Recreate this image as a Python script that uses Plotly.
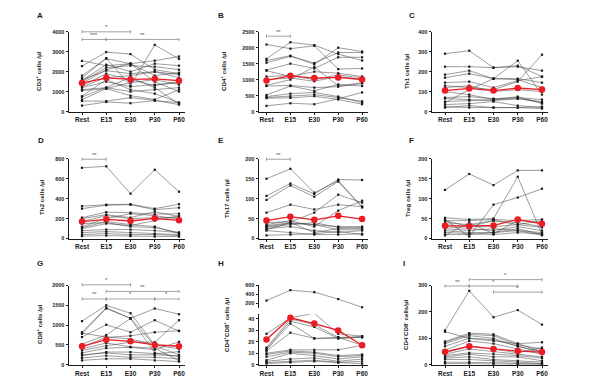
import plotly.graph_objects as go

categories = ["Rest", "E15", "E30", "P30", "P60"]

# ---------------- data ----------------
A_subjects = [
    [2540, 2300, 2400, 1500, 1000],
    [2280, 2980, 2880, 2100, 1900],
    [1800, 2650, 2400, 2550, 2760],
    [1680, 2680, 1300, 3340, 2640],
    [1560, 2350, 2000, 2400, 2300],
    [1500, 2200, 2300, 2250, 2100],
    [1420, 2100, 2400, 1800, 1950],
    [1300, 1900, 1600, 1300, 1500],
    [1250, 1700, 1800, 2000, 1700],
    [1200, 1500, 1250, 1350, 1450],
    [1100, 1200, 1000, 1100, 1200],
    [1050, 1150, 1450, 1600, 1350],
    [770, 1600, 1100, 900, 450],
    [730, 1200, 1700, 1200, 380],
    [600, 1150, 800, 600, 1100],
    [530, 520, 700, 560, 350],
    [300, 480, 420, 550, 450],
    [1600, 2050, 1900, 2000, 1850],
]
A_mean = [1430, 1690, 1610, 1640, 1550]

B_subjects = [
    [2100, 1970, 2060, 1330, 1350],
    [1650, 2170, 2080, 1800, 1600],
    [1600, 1750, 1480, 2000, 1880],
    [1530, 1730, 1520, 1850, 1850],
    [1300, 1500, 1350, 1700, 1700],
    [1280, 1100, 1250, 1200, 1100],
    [1000, 1050, 950, 1100, 1000],
    [820, 1000, 1400, 800, 900],
    [800, 820, 750, 780, 880],
    [520, 800, 650, 850, 800],
    [470, 560, 600, 470, 280],
    [440, 480, 530, 440, 320],
    [420, 430, 480, 380, 230],
    [180, 260, 230, 400, 600],
    [1100, 1130, 1000, 1150, 1050],
]
B_mean = [975, 1120, 1050, 1070, 1005]

C_subjects = [
    [290, 305, 220, 225, 205],
    [225, 225, 220, 230, 175],
    [185, 205, 165, 165, 145],
    [170, 190, 165, 160, 120],
    [45, 110, 165, 255, 85],
    [130, 120, 110, 150, 285],
    [145, 150, 120, 155, 175],
    [120, 130, 100, 110, 100],
    [70, 75, 65, 70, 60],
    [65, 60, 55, 65, 50],
    [50, 55, 60, 75, 40],
    [35, 40, 50, 30, 20],
    [25, 20, 20, 20, 15],
    [20, 30, 20, 20, 25],
    [100, 85, 60, 65, 45],
]
C_mean = [105, 116, 105, 118, 110]

D_subjects = [
    [710, 725, 450, 690, 470],
    [325, 340, 345, 300, 345],
    [300, 335, 340, 290, 310],
    [210, 265, 260, 245, 250],
    [200, 240, 210, 270, 220],
    [120, 200, 250, 230, 195],
    [110, 170, 140, 120, 50],
    [100, 150, 130, 180, 230],
    [80, 90, 90, 80, 60],
    [60, 70, 60, 50, 40],
    [40, 50, 40, 40, 30],
    [25, 30, 25, 20, 20],
    [150, 160, 120, 110, 60],
    [170, 230, 200, 210, 210],
]
D_mean = [170, 193, 176, 203, 183]

E_subjects = [
    [150, 175, 115, 145, 80],
    [107, 138, 112, 148, 147],
    [97, 133, 105, 143, 78],
    [65, 85, 73, 85, 80],
    [40, 42, 65, 110, 90],
    [35, 45, 30, 70, 95],
    [30, 38, 35, 30, 30],
    [28, 35, 40, 28, 25],
    [25, 30, 20, 15, 20],
    [22, 40, 15, 25, 28],
    [20, 15, 10, 10, 12],
    [8, 10, 12, 18, 10],
    [32, 40, 35, 22, 22],
]
E_mean = [45, 55, 47, 57, 49]

F_subjects = [
    [122, 162, 134, 171, 171],
    [52, 48, 50, 155, 10],
    [48, 5, 85, 103, 125],
    [45, 45, 48, 45, 48],
    [40, 35, 45, 40, 30],
    [35, 30, 30, 35, 45],
    [30, 25, 20, 30, 20],
    [25, 20, 25, 20, 15],
    [20, 15, 15, 25, 10],
    [15, 12, 10, 15, 12],
    [10, 10, 15, 20, 8],
    [8, 40, 12, 45, 40],
    [45, 30, 45, 35, 28],
]
F_mean = [32, 31, 33, 48, 37]

G_subjects = [
    [1100, 1500, 1300, 500, 400],
    [820, 1440, 1170, 300, 200],
    [780, 1420, 1170, 480, 250],
    [700, 1010, 820, 1125, 850],
    [520, 750, 1170, 1420, 1275],
    [450, 690, 730, 820, 860],
    [360, 480, 570, 570, 1125],
    [300, 420, 440, 380, 580],
    [230, 320, 320, 280, 330],
    [170, 230, 190, 190, 150],
    [110, 150, 150, 110, 80],
    [800, 700, 650, 500, 480],
    [250, 300, 250, 250, 230],
    [400, 550, 450, 420, 100],
]
G_mean = [467, 633, 592, 500, 467]

H_subjects = [
    [27, 41, 45, 27, 25],
    [15, 40, 35, 24, 24],
    [14, 38, 33, 23, 25],
    [13, 36, 23, 24, 17],
    [12, 28, 23, 23, 24],
    [10, 13, 13, 13, 17],
    [9, 12, 11, 8, 9],
    [7, 11, 10, 7, 8],
    [4, 10, 8, 5, 7],
    [3, 5, 6, 3, 5],
    [2, 3, 4, 2, 3],
    [1, 2, 3, 2, 1],
]
H_high_subject = [260, 490, 446, 293, 111]
H_mean = [22, 41, 36, 30, 17]

I_subjects = [
    [130, 280, 180, 207, 152],
    [125, 100, 90, 80, 50],
    [88, 120, 115, 80, 85],
    [85, 115, 110, 75, 60],
    [80, 110, 100, 70, 50],
    [70, 100, 95, 70, 45],
    [55, 90, 80, 60, 40],
    [45, 70, 60, 45, 65],
    [40, 60, 50, 40, 30],
    [35, 45, 40, 35, 25],
    [30, 40, 30, 30, 15],
    [25, 30, 20, 15, 10],
    [20, 20, 15, 10, 5],
    [10, 10, 8, 5, 3],
    [5, 5, 3, 2, 2],
]
I_mean = [49, 70, 60, 52, 48]

panel_letters = ["A", "B", "C", "D", "E", "F", "G", "H", "I"]
y_titles = [
    "CD3<sup>+</sup> cells /µl", "CD4<sup>+</sup> cells /µl", "Th1 cells /µl",
    "Th2 cells /µl", "Th17 cells /µl", "Treg cells /µl",
    "CD8<sup>+</sup> cells /µl", "CD4<sup>+</sup>CD8<sup>+</sup> cells /µl",
    "CD4<sup>-</sup>CD8<sup>-</sup> cells/µl",
]
y_max = [4000, 2500, 400, 800, 200, 200, 2000, 44, 300]
y_tick_vals = [
    [0, 1000, 2000, 3000, 4000], [0, 500, 1000, 1500, 2000, 2500], [0, 100, 200, 300, 400],
    [0, 200, 400, 600, 800], [0, 50, 100, 150, 200], [0, 50, 100, 150, 200],
    [0, 500, 1000, 1500, 2000], [0, 10, 20, 30, 40], [0, 100, 200, 300],
]
H_high_range = [100, 600]
H_high_ticks = [200, 400, 600]

subjects = [A_subjects, B_subjects, C_subjects, D_subjects, E_subjects,
            F_subjects, G_subjects, H_subjects, I_subjects]
means = [A_mean, B_mean, C_mean, D_mean, E_mean, F_mean, G_mean, H_mean, I_mean]

# significance brackets: (panel index, from category, to category, row, label)
brackets = [
    (0, 0, 2, 0, "*"), (0, 0, 1, 1, "***"), (0, 1, 4, 1, "**"),
    (1, 0, 1, 0, "**"),
    (3, 0, 1, 0, "**"),
    (4, 0, 1, 0, "**"),
    (6, 0, 2, 0, "*"), (6, 1, 4, 1, "**"), (6, 0, 1, 2, "**"), (6, 1, 3, 2, "*"), (6, 3, 4, 2, "*"),
    (8, 1, 4, 0, "*"), (8, 0, 1, 1, "**"), (8, 1, 3, 1, "*"), (8, 2, 4, 2, "*"),
]

# ---------------- layout geometry (pixels) ----------------
W, Hh = 589, 384
col_axis_px = [69, 259, 432]
col_first_px = [82, 266.5, 445]
col_step_px = [24.25, 23.9, 24.25]
row_zero_px = [110.3, 239.3, 367.5]
row_top_px = [29.2, 158.3, 287.0]
bracket_rows_px = {0: [29.3, 37.0], 1: [33.7], 3: [158.7], 4: [158.7],
                   6: [286.3, 293.0, 300.7], 8: [281.0, 287.5, 293.7]}
letter_pos = [(40, 13), (221, 13), (412, 13), (41, 140), (221, 140), (411, 140),
              (40, 265), (221, 265), (404, 265)]
ytitle_pos = [(38, 70), (223, 70), (407, 70), (42, 198), (227, 198), (408, 198),
              (39, 327), (226, 327), (405, 327)]
H_lower_top_px = 316.3
H_upper_px = (309.6, 286.7)


def fx(px):
    return px / W


def fy(py):
    return 1 - py / Hh


FONT = "Liberation Sans, Arial, sans-serif"
BLACK = "#1a1a1a"
LINE = "#3a3a3a"
RED = "#ec1c24"
GRAY = "#8a8a8a"

fig = go.Figure()
layout = dict(
    width=W, height=Hh, margin=dict(l=0, r=0, t=0, b=0),
    paper_bgcolor="white", plot_bgcolor="white", showlegend=False,
    font=dict(family=FONT, size=6, color=BLACK),
)
annotations = []
shapes = []

x_idx = list(range(len(categories)))

for p in range(9):
    r, c = divmod(p, 3)
    n = p + 1
    xa = "xaxis" if n == 1 else f"xaxis{n}"
    ya = "yaxis" if n == 1 else f"yaxis{n}"
    xr = "x" if n == 1 else f"x{n}"
    yr = "y" if n == 1 else f"y{n}"
    left_px = col_axis_px[c]
    right_px = col_first_px[c] + 4 * col_step_px[c] + 6
    xmin = (left_px - col_first_px[c]) / col_step_px[c]
    xmax = (right_px - col_first_px[c]) / col_step_px[c]
    top_px = H_lower_top_px if p == 7 else row_top_px[r]
    layout[xa] = dict(
        domain=[fx(left_px), fx(right_px)], range=[xmin, xmax], anchor=yr,
        tickmode="array", tickvals=x_idx, ticktext=categories,
        showline=True, linecolor=BLACK, linewidth=1, ticks="outside",
        ticklen=2, tickwidth=1, tickcolor=BLACK, showgrid=False, zeroline=False,
        tickfont=dict(family=FONT, size=6.5, color=BLACK, weight="bold"),
    )
    layout[ya] = dict(
        domain=[fy(row_zero_px[r]), fy(top_px)], range=[0, y_max[p]], anchor=xr,
        tickmode="array", tickvals=y_tick_vals[p],
        showline=True, linecolor=BLACK, linewidth=1, ticks="outside",
        ticklen=2.5, tickwidth=1, tickcolor=BLACK, showgrid=False, zeroline=False,
        tickfont=dict(family=FONT, size=5.5, color=BLACK, weight="bold"),
    )
    for s in subjects[p]:
        fig.add_trace(go.Scatter(
            x=x_idx, y=s, xaxis=xr, yaxis=yr, mode="lines+markers",
            line=dict(color=LINE, width=0.5),
            marker=dict(color=BLACK, size=2.2, symbol="square"),
            cliponaxis=False, hoverinfo="skip"))
    fig.add_trace(go.Scatter(
        x=x_idx, y=means[p], xaxis=xr, yaxis=yr, mode="lines+markers",
        line=dict(color=RED, width=1.3),
        marker=dict(color=RED, size=6.5, symbol="circle"),
        cliponaxis=False, hoverinfo="skip"))
    # panel letter
    lx, ly = letter_pos[p]
    annotations.append(dict(
        x=fx(lx), y=fy(ly), xref="paper", yref="paper", text=f"<b>{panel_letters[p]}</b>",
        showarrow=False, font=dict(family=FONT, size=8, color=BLACK),
        xanchor="center", yanchor="middle"))
    tx, ty = ytitle_pos[p]
    annotations.append(dict(
        x=fx(tx), y=fy(ty), xref="paper", yref="paper", text=f"<b>{y_titles[p]}</b>",
        showarrow=False, textangle=-90, font=dict(family=FONT, size=6.2, color=BLACK),
        xanchor="center", yanchor="middle"))

# H upper (broken) segment
layout["xaxis10"] = dict(
    domain=layout["xaxis8"]["domain"], range=layout["xaxis8"]["range"], anchor="y10",
    visible=False)
layout["yaxis10"] = dict(
    domain=[fy(H_upper_px[0]), fy(H_upper_px[1])], range=H_high_range, anchor="x10",
    tickmode="array", tickvals=H_high_ticks,
    showline=True, linecolor=BLACK, linewidth=1, ticks="outside",
    ticklen=2.5, tickwidth=1, tickcolor=BLACK, showgrid=False, zeroline=False,
    tickfont=dict(family=FONT, size=5.5, color=BLACK, weight="bold"),
)
fig.add_trace(go.Scatter(
    x=x_idx, y=H_high_subject, xaxis="x10", yaxis="y10", mode="lines+markers",
    line=dict(color=LINE, width=0.5), marker=dict(color=BLACK, size=2.2, symbol="square"),
    cliponaxis=False, hoverinfo="skip"))

# significance brackets
for (p, i0, i1, row, label) in brackets:
    r, c = divmod(p, 3)
    x0 = col_first_px[c] + i0 * col_step_px[c]
    x1 = col_first_px[c] + i1 * col_step_px[c]
    yp = bracket_rows_px[p][row]
    line = dict(color=GRAY, width=0.8)
    shapes.append(dict(type="line", xref="paper", yref="paper",
                       x0=fx(x0), x1=fx(x1), y0=fy(yp), y1=fy(yp), line=line))
    for xe in (x0, x1):
        shapes.append(dict(type="line", xref="paper", yref="paper",
                           x0=fx(xe), x1=fx(xe), y0=fy(yp - 1.6), y1=fy(yp + 1.6), line=line))
    annotations.append(dict(
        x=fx((x0 + x1) / 2), y=fy(yp + 0.5), xref="paper", yref="paper", text=label,
        showarrow=False, font=dict(family=FONT, size=6, color="#555555"),
        xanchor="center", yanchor="bottom"))

layout["annotations"] = annotations
layout["shapes"] = shapes
fig.update_layout(**layout)
fig.write_html("out.html", config={"displayModeBar": False},
               post_script="document.body.style.margin='0';document.body.style.padding='0';")
